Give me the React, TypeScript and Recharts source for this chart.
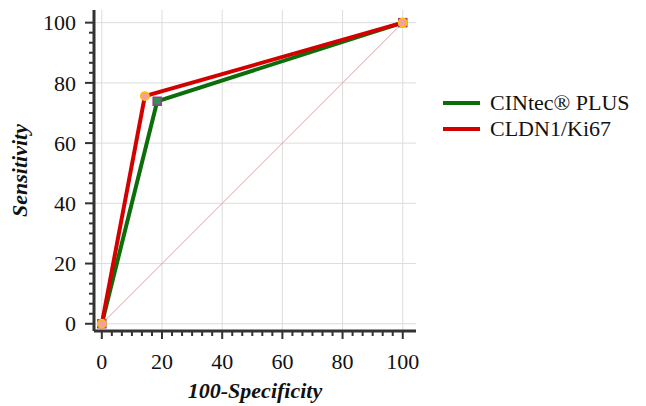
import { LineChart, Line, XAxis, YAxis, CartesianGrid, ReferenceLine } from 'recharts';

const cintecPlus = [
  { x: 0, y: 0 },
  { x: 18.4, y: 73.9 },
  { x: 100, y: 100 },
];

const cldn1Ki67 = [
  { x: 0, y: 0 },
  { x: 14.3, y: 75.6 },
  { x: 100, y: 100 },
];

const majorTicks = [0, 20, 40, 60, 80, 100];
// six minor steps between the labelled ticks
const allTicks = Array.from({ length: 31 }, (_, i) => (i * 20) / 6);

const FONT = '"Liberation Serif", "Times New Roman", serif';
const AXIS = '#333333';
const GREEN = '#0b6e0b';
const RED = '#d40000';

const isMajor = (v: number) => Math.abs(v / 20 - Math.round(v / 20)) < 1e-6;

const XTick = (props: any) => {
  const { x, y, payload } = props;
  const major = isMajor(payload.value);
  return (
    <g>
      <line x1={x} x2={x} y1={y} y2={y + (major ? 8 : 5)} stroke={AXIS} strokeWidth={2} />
      {major && (
        <text x={x} y={y + 38} textAnchor="middle" fontFamily={FONT} fontSize={22} fill="#111">
          {Math.round(payload.value)}
        </text>
      )}
    </g>
  );
};

const YTick = (props: any) => {
  const { x, y, payload } = props;
  const major = isMajor(payload.value);
  return (
    <g>
      <line x1={x} x2={x - (major ? 9 : 5)} y1={y} y2={y} stroke={AXIS} strokeWidth={2} />
      {major && (
        <text x={x - 18} y={y} dy="0.35em" textAnchor="end" fontFamily={FONT} fontSize={22} fill="#111">
          {Math.round(payload.value)}
        </text>
      )}
    </g>
  );
};

const squareDot = (props: any) => {
  const { cx, cy, index } = props;
  return (
    <rect key={`sq-${index}`} x={cx - 4} y={cy - 4} width={8} height={8} fill="#3a8c5c" stroke="#9a3a8a" strokeWidth={1.5} />
  );
};

const circleDot = (props: any) => {
  const { cx, cy, index } = props;
  return <circle key={`ci-${index}`} cx={cx} cy={cy} r={4.2} fill="#f4a0a0" stroke="#ffc000" strokeWidth={1.5} />;
};

const legendItems = [
  { name: 'CINtec® PLUS', color: GREEN },
  { name: 'CLDN1/Ki67', color: RED },
];

export default function App() {
  return (
    <div style={{ position: 'absolute', left: 0, top: 0, width: 646, height: 406, background: '#fff' }}>
      <LineChart width={646} height={406} margin={{ top: 10, right: 230, bottom: 1, left: 12 }}>
        <CartesianGrid stroke="#dcdcdc" strokeWidth={1} horizontalValues={majorTicks} verticalValues={majorTicks} />
        <XAxis
          type="number"
          dataKey="x"
          domain={[-2.6, 104.4]}
          allowDataOverflow
          ticks={allTicks}
          interval={0}
          tick={<XTick />}
          tickLine={false}
          tickSize={0}
          tickMargin={0}
          height={74}
          axisLine={{ stroke: AXIS, strokeWidth: 3 }}
          label={{
            value: '100-Specificity',
            position: 'insideBottom',
            offset: 7,
            style: { fontFamily: FONT, fontSize: 22, fontWeight: 'bold', fontStyle: 'italic', fill: '#111' },
          }}
        />
        <YAxis
          type="number"
          dataKey="y"
          domain={[-2.4, 104.2]}
          allowDataOverflow
          ticks={allTicks}
          interval={0}
          tick={<YTick />}
          tickLine={false}
          tickSize={0}
          tickMargin={0}
          width={82}
          axisLine={{ stroke: AXIS, strokeWidth: 3 }}
          label={{
            value: 'Sensitivity',
            angle: -90,
            position: 'insideLeft',
            offset: 7,
            textAnchor: 'middle',
            style: { textAnchor: 'middle', fontFamily: FONT, fontSize: 22, fontWeight: 'bold', fontStyle: 'italic', fill: '#111' },
          }}
        />
        <ReferenceLine
          segment={[
            { x: 0, y: 0 },
            { x: 100, y: 100 },
          ]}
          stroke="#e2a0a0"
          strokeWidth={1}
        />
        <Line
          data={cintecPlus}
          dataKey="y"
          name="CINtec® PLUS"
          stroke={GREEN}
          strokeWidth={4}
          dot={squareDot}
          activeDot={false}
          isAnimationActive={false}
        />
        <Line
          data={cldn1Ki67}
          dataKey="y"
          name="CLDN1/Ki67"
          stroke={RED}
          strokeWidth={4}
          dot={circleDot}
          activeDot={false}
          isAnimationActive={false}
        />
      </LineChart>
      <div style={{ position: 'absolute', left: 443, top: 90, fontFamily: FONT, fontSize: 22, color: '#111' }}>
        {legendItems.map((item) => (
          <div key={item.name} style={{ display: 'flex', alignItems: 'center', height: 26.3, lineHeight: '26px' }}>
            <span style={{ display: 'inline-block', width: 37, height: 4, background: item.color, marginRight: 10 }} />
            <span style={{ whiteSpace: 'nowrap' }}>{item.name}</span>
          </div>
        ))}
      </div>
    </div>
  );
}
